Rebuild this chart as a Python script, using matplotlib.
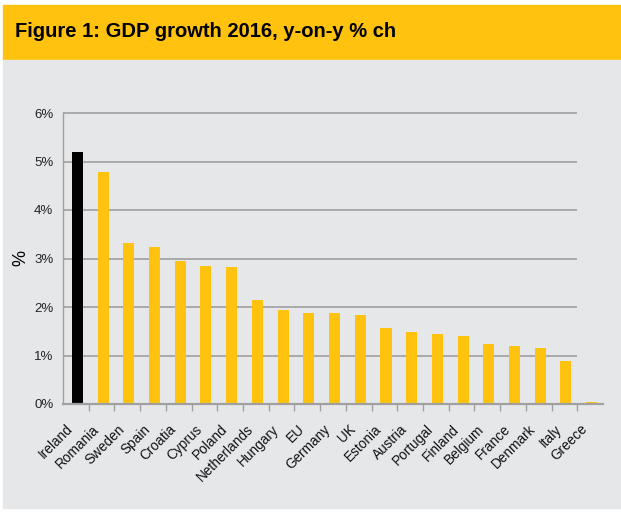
import matplotlib.pyplot as plt
from matplotlib import font_manager
import numpy as np


# DATA
countries = ["Ireland", "Romania", "Sweden", "Spain", "Croatia", "Cyprus", "Poland",
             "Netherlands", "Hungary", "EU", "Germany", "UK", "Estonia", "Austria",
             "Portugal", "Finland", "Belgium", "France", "Denmark", "Italy", "Greece"]
growth = [5.2, 4.79, 3.32, 3.24, 2.95, 2.85, 2.83, 2.15, 1.94, 1.88, 1.88, 1.84,
          1.57, 1.49, 1.45, 1.41, 1.24, 1.20, 1.16, 0.89, 0.05]
highlight = "Ireland"
y_ticks = [0, 1, 2, 3, 4, 5, 6]

YELLOW = "#FFC20E"
PANEL = "#E6E7E9"
GRID = "#A0A0A0"

names = {f.name for f in font_manager.fontManager.ttflist}
title_font = "Liberation Sans Narrow" if "Liberation Sans Narrow" in names else "Liberation Sans"
plt.rcParams["font.family"] = ["Liberation Sans", "DejaVu Sans"]

fig = plt.figure(figsize=(6.21, 5.14), dpi=100)
W, H = 621, 514

# title band and grey panel
fig.patches.append(plt.Rectangle((3 / W, (H - 59) / H), 1, 54 / H, transform=fig.transFigure,
                                 color=YELLOW, zorder=-2))
fig.patches.append(plt.Rectangle((3 / W, 6 / H), 1, (508 - 60) / H, transform=fig.transFigure,
                                 color=PANEL, zorder=-2))
fig.text(15 / W, (H - 37) / H, "Figure 1: GDP growth 2016, y-on-y % ch",
         family=title_font, fontsize=16 if title_font.endswith("Narrow") else 14.5,
         fontweight="bold", va="baseline", ha="left", color="black")

ax = fig.add_axes([63 / W, 110 / H, 540 / W, 291 / H])
ax.set_zorder(2)
ax.set_facecolor("none")

x = np.arange(len(countries))
colors = ["black" if c == highlight else YELLOW for c in countries]
ax.bar(x + 0.06, growth, width=0.43, color=colors, zorder=3)

ax.set_xlim(-0.5, len(countries) - 0.5)
ax.set_ylim(0, 6)

# gridlines stop one category short of the end
for v in y_ticks[1:]:
    ax.plot([-0.5, len(countries) - 1.5], [v, v], color=GRID, lw=1.2, zorder=1,
            solid_capstyle="butt", clip_on=False)

for s in ["top", "right"]:
    ax.spines[s].set_visible(False)
ax.spines["left"].set_color(GRID)
ax.spines["left"].set_linewidth(1.0)
ax.spines["bottom"].set_color(GRID)
ax.spines["bottom"].set_linewidth(1.6)
ax.spines["bottom"].set_zorder(4)

ax.set_yticks(y_ticks)
ax.set_yticklabels([f"{v}%" for v in y_ticks])
ax.tick_params(axis="y", length=0, pad=7, labelsize=9.5, labelcolor="#222222")

ax.set_xticks(x)
ax.set_xticklabels(countries, rotation=45, ha="right", va="top", fontsize=9.8,
                   color="#111111")
ax.tick_params(axis="x", length=0, pad=13)

ax.set_xticks(np.arange(len(countries) - 1) + 0.5, minor=True)
ax.tick_params(axis="x", which="minor", length=5, width=1, color=GRID, direction="out")

ax.set_ylabel("%", fontsize=13)
ax.yaxis.set_label_coords(-0.063, 0.5)

fig.savefig("out.png", dpi=100, facecolor="white")
